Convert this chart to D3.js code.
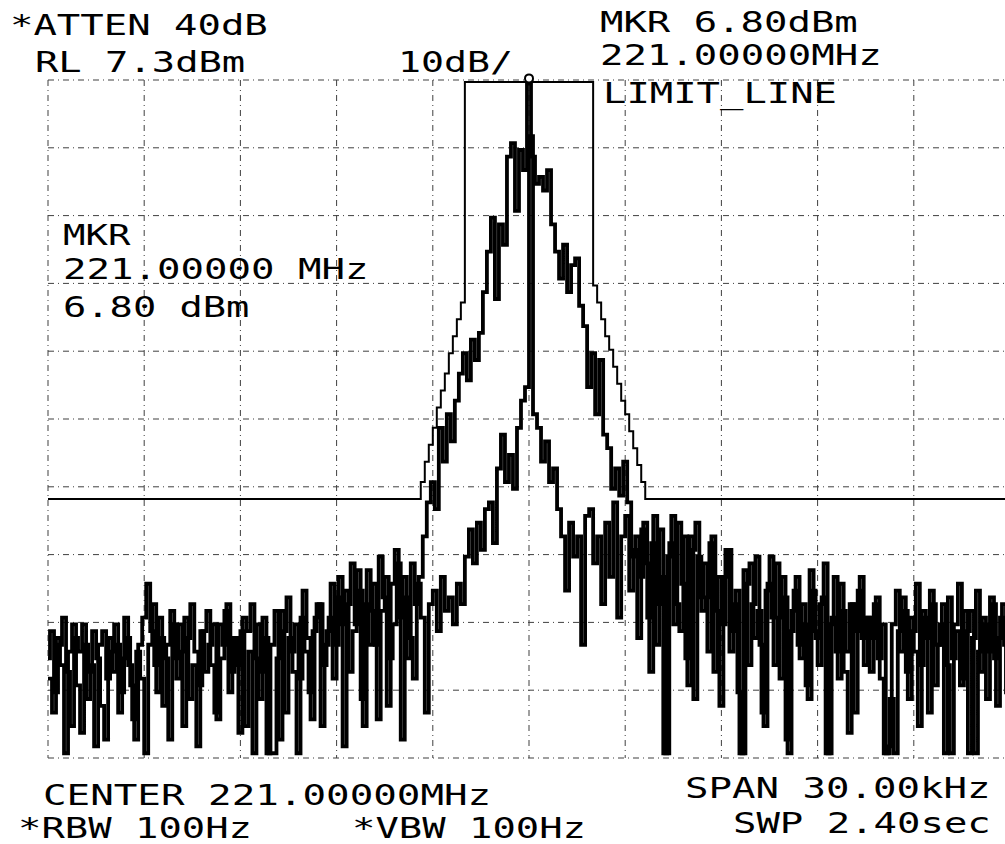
<!DOCTYPE html>
<html lang="en">
<head>
<meta charset="utf-8">
<script src="https://d3js.org/d3.v7.min.js"></script>
<style>
  body { margin: 0; background: #fff; }
  svg text { font-family: "DejaVu Sans Mono", monospace; font-size: 29px; fill: #000; }
</style>
</head>
<body>
<script>
    // sweep: 241 points, -15 kHz .. +15 kHz around the 221 MHz center, values in dBm
    var sweepStart = -15,
        sweepStep = 0.125;

    // trace A: the wide (modulated) trace
    var traceA = [
        -78,-74,-83,-76,-72,-80,-88,-75,-77,-73,-84,-79,-91,-76,-74,-81,-77,-73,-86,-78,-75,-82,-90,-76,-72,
        -67,-74,-79,-72,-85,-76,-71,-78,-73,-88,-75,-70,-77,-82,-74,-71,-79,-86,-73,-76,-70,-80,-75,-89,-72,
        -74,-70,-78,-84,-72,-92,-76,-71,-90,-74,-69,-77,-73,-81,-68,-75,-87,-72,-70,-79,-74,-67,-76,
        -66,-91,-70,-64,-73,-68,-88,-65,-71,-76,-63,-69,-85,-67,-62,-72,-66,-78,-64,-70,
        -66,-60,-55,-52,-56,-44,-49,-42,-46,-40,-36,-33,-37,-31,-34,-30,-24,-18,-13,-25,-14,-17,-4,-2,-12,-3,-6,
        6.8,
        -4,-8,-7,-9,-6,-14,-18,-22,-17,-24,-20,-19,-26,-29,-38,-33,-42,-34,-45,-47,-53,-50,-54,-49,-55,-63,-60,
        -66,-58,-72,-61,-76,-59,-92,-63,-57,-70,-74,-60,-82,-62,-58,-69,
        -64,-77,-60,-71,-85,-66,-62,-74,-68,-92,-65,-79,-70,-63,-76,-88,-67,-72,-64,-81,-69,-92,
        -71,-66,-78,-73,-84,-68,-75,-70,-64,-92,-72,-77,-67,-80,-89,-70,-74,-66,-79,-72,
        -75,-69,-81,-92,-91,-73,-68,-77,-71,-84,-74,-67,-79,-72,-86,-70,-76,-73,-92,-69,-78,-74,-82,-71,-92,
        -75,-68,-80,-73,-77,-70,-85,-72,-76,-74
    ];

    // trace B: the narrow trace
    var traceB = [
        -81,-86,-75,-79,-92,-77,-73,-82,-89,-76,-80,-74,-78,-85,-90,-75,-80,-76,-83,-72,-79,-87,-77,-81,-92,
        -76,-70,-83,-75,-78,-90,-73,-81,-77,-72,-84,-79,-91,-74,-80,-76,-73,-87,-78,-71,-83,-75,-79,-74,-88,
        -77,-92,-73,-80,-75,-92,-92,-78,-71,-86,-75,-80,-92,-72,-77,-83,-74,-70,-88,-76,-72,-81,-69,
        -73,-68,-80,-74,-65,-84,-70,-76,-67,-87,-71,-66,-78,-73,-64,-90,-69,-75,-81,-67,-72,-86,-70,-68,-74,
        -66,-71,-69,-73,-67,-70,-63,
        -59,-64,-58,-62,-56,-55,-61,-50,-45,-52,-48,-53,-44,-40,-38,
        -1,
        -42,-44,-49,-46,-52,-50,-56,-60,-68,-58,-63,-60,-76,-57,-56,-64,-60,-70,
        -58,-66,-55,-72,-60,-57,-68,
        -62,-75,-59,-64,-80,-57,-70,-66,-92,-61,-73,-58,-67,-78,-60,-84,-63,-71,
        -69,-61,-80,-66,-73,-62,-77,-70,-83,-92,-67,-64,-75,-71,-86,-68,-63,-79,-72,-66,-90,-74,
        -68,-76,-70,-82,-65,-74,-79,-69,-92,-73,-66,-81,-71,-77,-70,-86,-68,-75,-72,-80,
        -70,-78,-73,-92,-84,-92,-74,-69,-80,-72,-77,-88,-71,-75,-68,-82,-76,-70,-79,-92,-73,-67,-81,-74,-71,
        -92,-77,-72,-84,-69,-78,-75,-70,-83,-73
    ];

    // limit line mask (kHz offset, dBm)
    var limitFreq = [-15, -3.5, -3.375, -3.25, -3.125, -3, -2.875, -2.75, -2.625, -2.5, -2.375, -2.25, -2.125, -2,
                     -2, 2, 2, 2.125, 2.25, 2.375, 2.5, 2.625, 2.75, 2.875, 3, 3.125, 3.25, 3.375, 3.5, 3.625, 15];
    var limitDbm  = [-54.5, -54.5, -52, -49, -46.5, -44, -41, -38.5, -36, -33, -30.5, -28, -25.5, -23,
                     7, 7, -23, -25.5, -28, -30.5, -32.5, -35, -37.5, -40, -42, -44.5, -47, -49.5, -52, -54.5, -54.5];

    var markerFreq = 0,
        markerDbm = 6.8;

    var refLevel = 7.3,
        dbPerDiv = 10,
        divisions = 10;

    var width = 1005,
        height = 844,
        charWidth = 23.8;

    var x = d3.scaleLinear()
              .domain([-15, 15])
              .range([48, 1010]);

    var y = d3.scaleLinear()
              .domain([refLevel - dbPerDiv * divisions, refLevel])
              .range([758, 80]);

    var svg = d3.select("body")
                .append("svg")
                .attr("width", width)
                .attr("height", height);

    svg.append("rect").attr("width", width).attr("height", height).attr("fill", "#fff");

    // graticule, dashed like the plotter output
    var grid = svg.append("g")
                  .attr("stroke", "#000")
                  .attr("stroke-width", 1)
                  .attr("stroke-dasharray", "6,4,1,4")
                  .attr("opacity", 0.75);

    grid.selectAll("line.v")
        .data(d3.range(-15, 15.001, 3))
        .enter().append("line")
        .attr("class", "v")
        .attr("x1", function (d) { return x(d); })
        .attr("x2", function (d) { return x(d); })
        .attr("y1", y.range()[1])
        .attr("y2", y.range()[0]);

    grid.selectAll("line.h")
        .data(d3.range(0, divisions + 1).map(function (k) { return refLevel - k * dbPerDiv; }))
        .enter().append("line")
        .attr("class", "h")
        .attr("x1", x.range()[0])
        .attr("x2", x.range()[1])
        .attr("y1", function (d) { return y(d); })
        .attr("y2", function (d) { return y(d); });

    // limit line
    var limitPts = limitFreq.map(function (f, i) { return [f, limitDbm[i]]; });
    svg.append("path")
       .attr("d", d3.line()
            .x(function (d) { return x(d[0]); })
            .y(function (d) { return y(d[1]); })
            .curve(d3.curveStepAfter)(limitPts))
       .attr("fill", "none")
       .attr("stroke", "#000")
       .attr("stroke-width", 2);

    // traces: the two plotter passes land their verticals on different pen positions
    function traceLine(curve) {
        return d3.line()
            .x(function (d, i) { return x(sweepStart + i * sweepStep); })
            .y(function (d) { return y(d); })
            .curve(curve);
    }

    svg.append("path")
       .attr("d", traceLine(d3.curveStepAfter)(traceB))
       .attr("fill", "none")
       .attr("stroke", "#000")
       .attr("stroke-width", 3.8);

    svg.append("path")
       .attr("d", traceLine(d3.curveStep)(traceA))
       .attr("fill", "none")
       .attr("stroke", "#000")
       .attr("stroke-width", 3.8);

    // marker
    svg.append("circle")
       .attr("cx", x(markerFreq))
       .attr("cy", y(markerDbm) - 5)
       .attr("r", 4)
       .attr("fill", "#fff")
       .attr("stroke", "#000")
       .attr("stroke-width", 2);

    // annotation text
    function label(s, px, py) {
        svg.append("text")
           .attr("x", px)
           .attr("y", py)
           .attr("textLength", s.length * charWidth - 4)
           .attr("lengthAdjust", "spacingAndGlyphs")
           .text(s);
    }

    label("*ATTEN 40dB", 10, 35);
    label("RL 7.3dBm", 35, 72);
    label("10dB/", 398, 72);
    label("MKR " + markerDbm.toFixed(2) + "dBm", 600, 32);
    label("221.00000MHz", 600, 65);
    label("LIMIT_LINE", 603, 103);
    label("MKR", 63, 245);
    label("221.00000 MHz", 63, 279);
    label(markerDbm.toFixed(2) + " dBm", 63, 317);
    label("CENTER 221.00000MHz", 43, 805);
    label("*RBW 100Hz", 18, 838);
    label("*VBW 100Hz", 352, 838);
    label("SPAN 30.00kHz", 685, 798);
    label("SWP 2.40sec", 733, 833);
</script>
</body>
</html>
